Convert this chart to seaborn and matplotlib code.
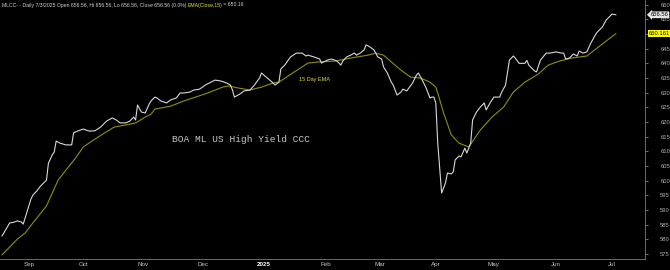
import matplotlib
matplotlib.use("Agg")
import matplotlib.pyplot as plt
import pandas as pd
import seaborn as sns

# ---------------- data ----------------
close_dates = [
    "2024-08-20", "2024-08-21", "2024-08-24", "2024-08-26", "2024-08-28", "2024-08-30", "2024-08-31",
    "2024-09-04", "2024-09-05", "2024-09-07", "2024-09-09", "2024-09-12", "2024-09-13", "2024-09-15",
    "2024-09-16", "2024-09-17", "2024-09-19", "2024-09-22", "2024-09-25", "2024-09-26", "2024-09-28",
    "2024-10-01", "2024-10-04", "2024-10-07", "2024-10-10", "2024-10-13", "2024-10-16", "2024-10-18",
    "2024-10-20", "2024-10-23", "2024-10-25", "2024-10-27", "2024-10-28", "2024-10-29", "2024-10-31",
    "2024-11-02", "2024-11-04", "2024-11-05", "2024-11-07", "2024-11-08", "2024-11-10", "2024-11-13",
    "2024-11-15", "2024-11-18", "2024-11-20", "2024-11-22", "2024-11-25", "2024-11-27", "2024-11-30",
    "2024-12-03", "2024-12-06", "2024-12-08", "2024-12-11", "2024-12-14", "2024-12-16", "2024-12-17",
    "2024-12-18", "2024-12-21", "2024-12-23", "2024-12-26", "2024-12-28", "2024-12-31", "2025-01-01",
    "2025-01-04", "2025-01-07", "2025-01-08", "2025-01-10", "2025-01-11", "2025-01-13", "2025-01-16",
    "2025-01-19", "2025-01-22", "2025-01-24", "2025-01-25", "2025-01-28", "2025-01-31", "2025-02-01",
    "2025-02-04", "2025-02-06", "2025-02-09", "2025-02-11", "2025-02-12", "2025-02-14", "2025-02-16",
    "2025-02-18", "2025-02-19", "2025-02-21", "2025-02-23", "2025-02-24", "2025-02-26", "2025-02-28",
    "2025-03-01", "2025-03-02", "2025-03-04", "2025-03-05", "2025-03-07", "2025-03-09", "2025-03-10",
    "2025-03-12", "2025-03-14", "2025-03-15", "2025-03-17", "2025-03-20", "2025-03-22", "2025-03-23",
    "2025-03-25", "2025-03-27", "2025-03-29", "2025-03-30", "2025-03-31", "2025-04-01", "2025-04-02",
    "2025-04-04", "2025-04-06", "2025-04-07", "2025-04-09", "2025-04-10", "2025-04-11", "2025-04-13",
    "2025-04-14", "2025-04-16", "2025-04-17", "2025-04-19", "2025-04-20", "2025-04-22", "2025-04-24",
    "2025-04-26", "2025-04-27", "2025-04-29", "2025-05-01", "2025-05-04", "2025-05-05", "2025-05-07",
    "2025-05-09", "2025-05-11", "2025-05-12", "2025-05-14", "2025-05-17", "2025-05-18", "2025-05-19",
    "2025-05-22", "2025-05-23", "2025-05-25", "2025-05-28", "2025-05-30", "2025-06-02", "2025-06-05",
    "2025-06-06", "2025-06-07", "2025-06-09", "2025-06-11", "2025-06-13", "2025-06-14", "2025-06-16",
    "2025-06-18", "2025-06-20", "2025-06-23", "2025-06-26", "2025-06-28", "2025-07-01", "2025-07-03",
]
close_values = [
    581.1, 582.2, 585.6, 585.8, 586.3, 585.9, 585.2,
    593.8, 595.1, 596.5, 598.2, 600.2, 606.0, 608.8,
    609.8, 613.5, 612.8, 612.2, 612.2, 616.3, 616.9,
    617.6, 616.9, 617.0, 618.3, 620.3, 621.4, 620.7,
    619.7, 619.7, 620.3, 621.7, 620.7, 625.8, 623.4,
    623.1, 626.1, 627.2, 628.5, 628.2, 627.2, 626.5,
    627.5, 628.2, 629.9, 629.9, 630.2, 630.9, 631.2,
    632.6, 633.6, 634.3, 634.0, 633.3, 632.6, 630.9,
    628.5, 629.6, 630.6, 630.9, 632.3, 635.0, 636.7,
    635.0, 633.3, 632.6, 633.6, 638.1, 639.4, 642.2,
    643.5, 643.5, 642.5, 642.8, 642.2, 641.5, 640.1,
    641.1, 641.5, 640.8, 639.4, 640.8, 642.2, 642.8,
    643.5, 642.8, 643.5, 644.6, 646.3, 645.6, 644.6,
    643.5, 642.2, 641.5, 638.8, 636.7, 633.6, 632.6,
    629.2, 630.2, 631.2, 630.6, 633.3, 636.0, 636.7,
    634.3, 631.6, 628.2, 628.5, 628.5, 626.5, 612.8,
    595.8, 599.2, 602.6, 602.3, 603.0, 607.1, 608.4,
    608.1, 611.1, 609.4, 612.8, 620.7, 623.4, 625.1,
    626.5, 624.1, 626.5, 628.5, 628.5, 630.2, 632.6,
    641.1, 642.5, 641.8, 640.0, 640.0, 641.0, 639.4,
    637.4, 637.1, 641.1, 643.5, 643.5, 643.9, 643.5,
    643.5, 641.5, 641.8, 643.2, 642.5, 644.2, 643.5,
    643.9, 646.9, 650.4, 652.4, 654.8, 656.8, 656.56,
]

ema_dates = [
    "2024-08-20", "2024-08-24", "2024-08-28", "2024-09-01", "2024-09-05", "2024-09-12", "2024-09-18",
    "2024-09-22", "2024-09-27", "2024-10-01", "2024-10-08", "2024-10-12", "2024-10-17", "2024-10-23",
    "2024-10-28", "2024-11-02", "2024-11-05", "2024-11-07", "2024-11-15", "2024-11-22", "2024-12-03",
    "2024-12-12", "2024-12-15", "2024-12-20", "2024-12-26", "2025-01-01", "2025-01-07", "2025-01-10",
    "2025-01-18", "2025-01-25", "2025-01-31", "2025-02-08", "2025-02-16", "2025-02-25", "2025-03-01",
    "2025-03-05", "2025-03-09", "2025-03-14", "2025-03-19", "2025-03-24", "2025-03-29", "2025-04-01",
    "2025-04-02", "2025-04-05", "2025-04-09", "2025-04-13", "2025-04-18", "2025-04-24", "2025-04-30",
    "2025-05-06", "2025-05-11", "2025-05-17", "2025-05-24", "2025-05-29", "2025-06-04", "2025-06-10",
    "2025-06-18", "2025-06-24", "2025-07-03",
]
ema_values = [
    574.7, 577.4, 580.1, 582.2, 585.6, 591.4, 600.2,
    603.6, 607.7, 611.5, 614.6, 616.3, 618.3, 619.0,
    619.7, 621.7, 622.7, 624.4, 625.4, 627.2, 629.6,
    631.9, 632.3, 631.6, 630.9, 631.9, 633.3, 633.6,
    637.1, 640.1, 640.5, 640.8, 641.8, 642.8, 643.5,
    642.8, 640.5, 637.7, 635.3, 635.0, 633.6, 631.9,
    629.9, 623.1, 615.6, 612.8, 611.5, 617.3, 621.7,
    625.1, 630.2, 633.6, 636.4, 639.4, 640.8, 641.8,
    642.5, 645.6, 650.16,
]

month_tick_dates = ["2024-09-03", "2024-10-01", "2024-11-01", "2024-12-02", "2025-01-02",
                    "2025-02-03", "2025-03-03", "2025-04-01", "2025-05-01", "2025-06-02", "2025-07-01"]
month_tick_labels = ["Sep", "Oct", "Nov", "Dec", "2025", "Feb", "Mar", "Apr", "May", "Jun", "Jul"]
y_ticks = list(range(575, 661, 5))
y_hidden_label = 650  # covered by the EMA value tag in the reference

title_text = "BOA ML US High Yield CCC"
header_main = "MLCC- - Daily 7/3/2025 Open 656.56, Hi 656.56, Lo 656.56, Close 656.56 (0.0%) "
header_ema = "EMA(Close,15)"
header_tail = " = 650.16"
ema_note = "15 Day EMA"
last_close_label = "656.56"
last_ema_label = "650.161"

# ---------------- figure ----------------
sns.set_style("dark")
plt.rcParams["font.family"] = ["Liberation Sans", "DejaVu Sans"]

close_df = pd.DataFrame({"date": pd.to_datetime(close_dates), "value": close_values})
ema_df = pd.DataFrame({"date": pd.to_datetime(ema_dates), "value": ema_values})

fig = plt.figure(figsize=(6.7, 2.7), dpi=100, facecolor="black")
ax = fig.add_axes([0.0, 11 / 270, 645 / 670, 259 / 270])
ax.set_facecolor("black")

sns.lineplot(data=ema_df, x="date", y="value", ax=ax, color="#8f8f10", lw=0.8)
sns.lineplot(data=close_df, x="date", y="value", ax=ax, color="#d8d8d8", lw=0.8)

ax.set_xlim(pd.Timestamp("2024-08-19"), pd.Timestamp("2025-07-18"))
ax.set_ylim(573.3, 661.6)
ax.grid(False)
ax.set_xlabel("")
ax.set_ylabel("")

ax.yaxis.tick_right()
ax.set_yticks(y_ticks)
ax.set_yticklabels(["" if v == y_hidden_label else str(v) for v in y_ticks])
ax.tick_params(axis="y", colors="#9a9a9a", labelcolor="#b0b0b0", labelsize=4.2,
               length=2, width=0.5, pad=9, direction="out")

ax.set_xticks(pd.to_datetime(month_tick_dates))
ax.set_xticklabels(month_tick_labels)
ax.tick_params(axis="x", colors="#9a9a9a", labelcolor="#c8c8c8", labelsize=4.5,
               length=0, pad=2)
for lbl in ax.get_xticklabels():
    if lbl.get_text() == "2025":
        lbl.set_fontweight("bold")
        lbl.set_color("#ffffff")

for side in ["top", "left"]:
    ax.spines[side].set_visible(False)
for side in ["bottom", "right"]:
    ax.spines[side].set_visible(True)
    ax.spines[side].set_color("#7a7a7a")
    ax.spines[side].set_linewidth(0.6)

# chart title inside the plot
ax.text(172 / 645, 1 - 139 / 259, title_text, transform=ax.transAxes,
        family=["Liberation Mono", "DejaVu Sans Mono"], fontsize=6.8, color="#c8c8c8",
        va="center", ha="left")

# EMA annotation
ax.text(299 / 645, 1 - 79 / 259, ema_note, transform=ax.transAxes,
        fontsize=4.0, color="#e0e020", va="center", ha="left")

# header
t1 = fig.text(2 / 670, 1 - 5 / 270, header_main, fontsize=3.7, color="#d0d0d0",
              va="center", ha="left")
t2 = ax.annotate(header_ema, xy=(1, 0), xycoords=t1, fontsize=3.7, color="#e8e820",
                 va="bottom", ha="left", annotation_clip=False)
t3 = ax.annotate(header_tail, xy=(1, 0), xycoords=t2, fontsize=3.7, color="#d0d0d0",
                 va="bottom", ha="left", annotation_clip=False)

# last-value tags on the right axis
ax.annotate(last_close_label, xy=(1.0, close_values[-1]), xycoords=("axes fraction", "data"),
            xytext=(4, 0), textcoords="offset points", fontsize=4.2, color="#000000",
            va="center", ha="left", annotation_clip=False, zorder=10,
            bbox=dict(boxstyle="larrow,pad=0.15", fc="#e6e6e6", ec="none"))
ax.annotate(last_ema_label, xy=(1.0, ema_values[-1]), xycoords=("axes fraction", "data"),
            xytext=(3, 0), textcoords="offset points", fontsize=4.2, color="#000000",
            va="center", ha="left", annotation_clip=False, zorder=10,
            bbox=dict(boxstyle="square,pad=0.15", fc="#ffff00", ec="none"))

fig.savefig("out.png", dpi=100, facecolor="black")
